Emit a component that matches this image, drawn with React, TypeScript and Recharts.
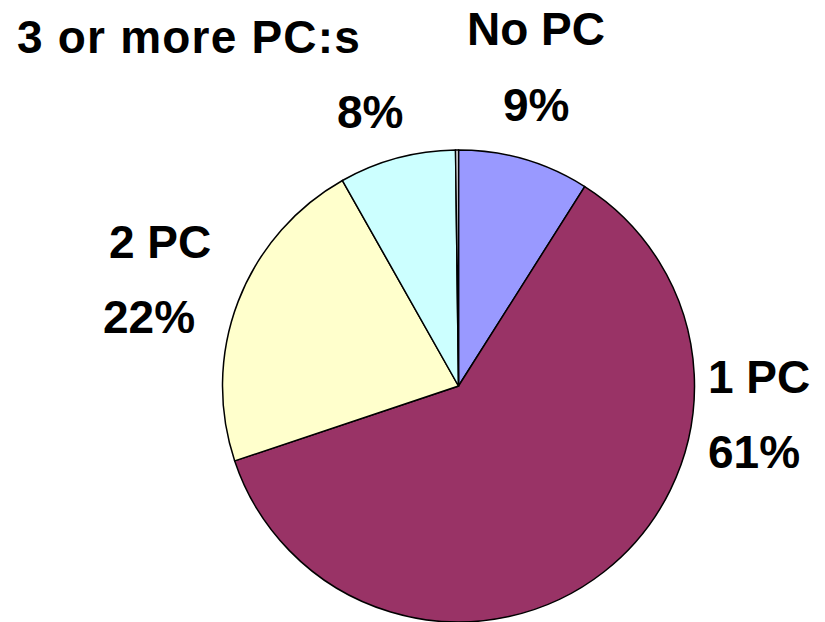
import { PieChart, Pie, Cell } from "recharts";

// Datele din grafic (sensul acelor de ceasornic, de la ora 12)
const categories = ["No PC", "1 PC", "2 PC", "3 or more PC:s", "Unknown"];
const shares = [9, 61, 22, 8, 0.2];
const percentLabels = ["9%", "61%", "22%", "8%", ""];

const COLORS = ["#9999FF", "#993366", "#FFFFCC", "#CCFFFF", "#FFFFFF"];

// unde stau etichetele (nume + procent), baseline-uri
const LABEL_POS: Record<string, { nx: number; ny: number; px: number; py: number; ls?: number }> = {
  "No PC": { nx: 467, ny: 45, px: 503, py: 121 },
  "1 PC": { nx: 708, ny: 393, px: 708, py: 468 },
  "2 PC": { nx: 109, ny: 258, px: 103, py: 333 },
  "3 or more PC:s": { nx: 17, ny: 53, px: 337, py: 128, ls: 1.2 },
};

const data = categories.map((name, i) => ({ name, value: shares[i], pct: percentLabels[i] }));

const textStyle = {
  fontFamily: "'Liberation Sans', Arial, sans-serif",
  fontWeight: 700,
  fontSize: 46,
  fill: "#000",
};

function renderLabel(props: any) {
  const pos = LABEL_POS[props.name];
  if (!pos) return null;
  const entry = data[props.index];
  return (
    <g>
      <text x={pos.nx} y={pos.ny} style={{ ...textStyle, letterSpacing: pos.ls || 0 }}>{props.name}</text>
      <text x={pos.px} y={pos.py} style={textStyle}>{entry.pct}</text>
    </g>
  );
}

export default function App() {
  return (
    <div style={{ position: "absolute", left: 0, top: 0, width: 825, height: 622, background: "#fff" }}>
      <PieChart width={825} height={622} margin={{ top: 0, right: 0, bottom: 0, left: 0 }}>
        <Pie
          data={data}
          dataKey="value"
          nameKey="name"
          cx={458.5}
          cy={386}
          outerRadius={236}
          startAngle={90}
          endAngle={-270}
          stroke="#000"
          strokeWidth={1.5}
          label={renderLabel}
          labelLine={false}
          isAnimationActive={false}
        >
          {data.map((entry, idx) => <Cell key={entry.name} fill={COLORS[idx % COLORS.length]} />)}
        </Pie>
      </PieChart>
    </div>
  );
}
